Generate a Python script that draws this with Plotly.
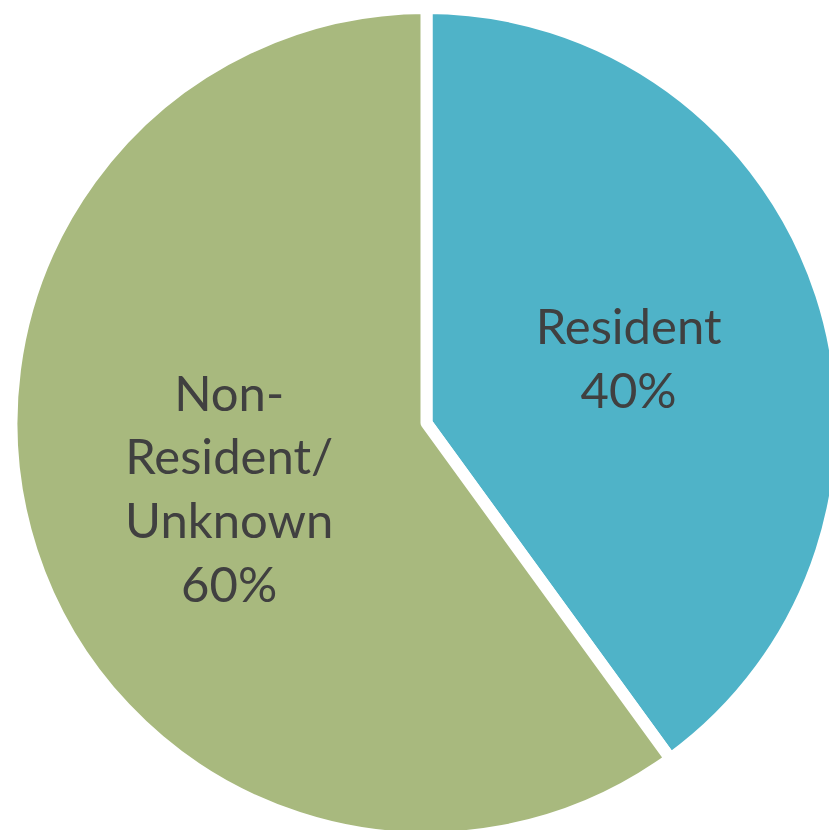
import plotly.graph_objects as go

categories = ["Resident", "Non-Resident/Unknown"]
label_text = ["Resident<br>40%", "Non-<br>Resident/<br>Unknown<br>60%"]
values = [40, 60]
colors = ["#4FB3C8", "#A8B97E"]

fig = go.Figure(go.Pie(
    labels=categories,
    values=values,
    text=label_text,
    textinfo="text",
    textposition="inside",
    insidetextorientation="horizontal",
    sort=False,
    direction="clockwise",
    rotation=0,
    marker=dict(colors=colors, line=dict(color="white", width=12)),
    textfont=dict(family="Lato", size=49, color="#404040"),
    domain=dict(x=[0.0, 1], y=[0, 1]),
    showlegend=False,
    hoverinfo="label+percent",
))

fig.update_layout(
    width=837, height=830,
    margin=dict(l=0, r=0, t=0, b=0),
    paper_bgcolor="white",
    plot_bgcolor="white",
)

fig.write_html("out.html")
